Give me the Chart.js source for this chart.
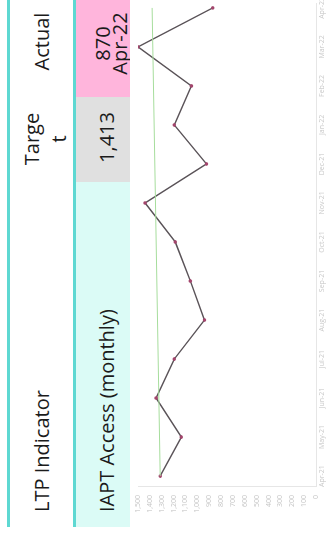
<!DOCTYPE html>
<html>
<head>
<meta charset="utf-8">
<title>IAPT Access (monthly)</title>
<script src="https://cdn.jsdelivr.net/npm/chart.js"></script>
<style>
  html, body { margin: 0; padding: 0; background: #fff; }
  body { width: 327px; height: 536px; overflow: hidden; position: relative; font-family: 'Open Sans', sans-serif; }

  /* the sheet is laid out landscape and turned a quarter turn */
  #sheet {
    position: absolute; left: 0; top: 0;
    width: 536px; height: 327px; overflow: hidden;
    background: #fff;
    transform-origin: 0 0;
    transform: translate(0, 536px) rotate(-90deg);
  }
  .rule { position: absolute; left: 9px; width: 540px; height: 3px; background: #5ed8d2; }
  .cell { position: absolute; top: 76px; height: 54px; overflow: hidden; }
  .txt { position: absolute; font-size: 20px; line-height: 28px; color: #1b1b1b; white-space: nowrap; }
  #trend { position: absolute; left: 0; top: 130px; filter: blur(0.4px); }
</style>
</head>
<body>
<div id="sheet">
  <div class="rule" style="top:7px"></div>
  <div class="rule" style="top:73px"></div>

  <!-- header row -->
  <div class="txt" style="left:24px; top:28px;">LTP Indicator</div>
  <div class="txt" style="left:370px; top:18px; width:54px; line-height:27px; text-align:center; white-space:normal; word-break:break-all;">Target</div>
  <div class="txt" style="left:439px; top:28px; width:111px; text-align:center;">Actual</div>

  <!-- indicator row -->
  <div class="cell" style="left:9px; width:345px; background:#dbfbf6;">
    <div class="txt" style="left:15px; top:17px;">IAPT Access (monthly)</div>
  </div>
  <div class="cell" style="left:354px; width:85px; background:#e0e0e0;">
    <div class="txt" style="left:0; top:17px; width:89px; text-align:center;">1,413</div>
  </div>
  <div class="cell" style="left:439px; width:110px; background:#ffb5dc;">
    <div class="txt" style="left:0; top:18px; width:107px; line-height:17px; text-align:center; white-space:normal;">870<br>Apr-22</div>
  </div>

  <canvas id="trend" width="536" height="197"></canvas>
</div>

<script>
'use strict';

// months along the bottom of the trend
let months = ['Apr-21', 'May-21', 'Jun-21', 'Jul-21', 'Aug-21', 'Sep-21', 'Oct-21',
  'Nov-21', 'Dec-21', 'Jan-22', 'Feb-22', 'Mar-22', 'Apr-22'];

// people accessing IAPT each month
let accessActual = [1313, 1135, 1347, 1194, 940, 1059, 1186, 1440, 923, 1194, 1050, 1500, 870];

// trajectory line, only the two ends are known
let accessTrajectory = [1313, null, null, null, null, null, null, null, null, null, null, null, 1381];

// value axis labels
let valueTicks = [0, 100, 200, 300, 400, 500, 600, 700, 800, 900, 1000, 1100, 1200, 1300, 1400, 1500];

let ctx = document.getElementById('trend').getContext('2d');

// linear x so the first month sits a little in from the axis
function toPoints(values) {
  let points = [];
  for (let i = 0; i < values.length; i++) {
    if (values[i] !== null) {
      points.push({ x: i, y: values[i] });
    }
  }
  return points;
}

// keep the axes from pushing the plot in for overhanging labels
function noLabelPadding(scale) {
  scale.paddingLeft = 0;
  scale.paddingRight = 0;
  scale.paddingTop = 0;
  scale.paddingBottom = 0;
}

let tickFont = { family: 'Open Sans', size: 7 };

let chartObject = {
  type: 'line',
  data: {
    datasets: [{
      label: 'Trajectory',
      data: toPoints(accessTrajectory),
      borderColor: '#a6dd9c',
      borderWidth: 1,
      pointRadius: 0
    },
    {
      label: 'Actual',
      data: toPoints(accessActual),
      borderColor: '#5a5358',
      borderWidth: 1.4,
      pointRadius: 1.8,
      pointBorderWidth: 0,
      pointBackgroundColor: '#a3456c'
    }]
  },
  options: {
    responsive: false,
    animation: false,
    layout: { padding: { top: 8, right: 0, bottom: 0, left: 0 } },
    plugins: {
      legend: { display: false },
      tooltip: { enabled: false }
    },
    scales: {
      x: {
        type: 'linear',
        min: -0.28,
        max: 12.1,
        grid: { display: false, drawTicks: false },
        border: { display: true, color: '#e6e6e6' },
        afterBuildTicks: (axis) => {
          axis.ticks = months.map((m, i) => ({ value: i }));
        },
        afterFit: (scale) => {
          scale.height = 11;
          noLabelPadding(scale);
        },
        ticks: {
          autoSkip: false,
          maxRotation: 0,
          padding: 2,
          color: '#c9c9c9',
          font: tickFont,
          callback: (value) => months[value]
        }
      },
      y: {
        min: 0,
        max: 1500,
        grid: { display: false, drawTicks: false },
        border: { display: true, color: '#e6e6e6' },
        afterBuildTicks: (axis) => {
          axis.ticks = valueTicks.map((v) => ({ value: v }));
        },
        afterFit: (scale) => {
          scale.width = 49;
          noLabelPadding(scale);
        },
        ticks: {
          padding: 8,
          color: '#c4c4c4',
          font: tickFont,
          callback: (value) => value.toLocaleString('en-GB')
        }
      }
    }
  }
};

new Chart(ctx, chartObject);
</script>
</body>
</html>
